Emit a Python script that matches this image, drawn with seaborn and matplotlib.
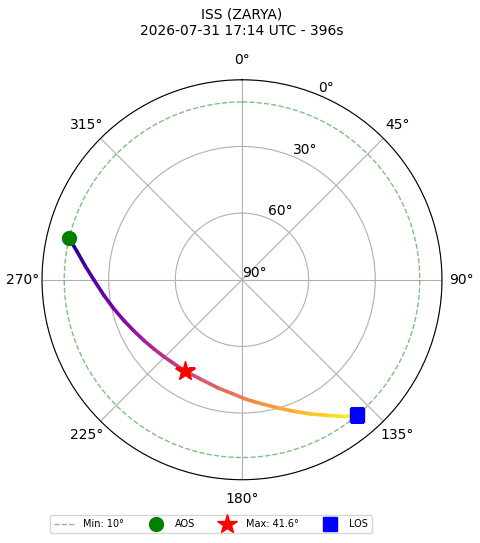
import numpy as np
import pandas as pd
import matplotlib
matplotlib.use("Agg")
import matplotlib.pyplot as plt
import seaborn as sns

# pass (azimuth deg, elevation deg, seconds since AOS)
azimuth = [283.5, 279.8, 275.0, 270.0, 263.5, 257.2, 250.9, 244.6, 238.2,
           231.8, 225.4, 219.0, 212.1, 201.9, 192.3, 183.5, 178.6, 174.7,
           171.0, 164.2, 158.1, 152.6, 147.5, 143.0, 139.6]
elevation = [10.0, 14.6, 19.2, 23.3, 27.5, 30.9, 33.8, 36.2, 38.1,
             39.6, 40.7, 41.4, 41.6, 41.5, 40.1, 38.2, 36.4, 35.0,
             33.5, 30.0, 26.1, 21.9, 17.6, 13.0, 10.0]
seconds = [0, 16, 35, 53, 73, 92, 108, 124, 140, 154, 168, 181, 196, 217,
           237, 257, 269, 279, 288, 307, 326, 344, 363, 381, 396]

min_el = 10
max_idx = 12
sat_name = "ISS (ZARYA)"
pass_start = "2026-07-31 17:14 UTC"
duration = 396

r_ticks = [0, 30, 60, 90]
r_labels = ["90°", "60°", "30°", "0°"]

theta = np.deg2rad(azimuth)
radius = 90 - np.array(elevation)

# one short line per step so the colour follows time
rows = []
for i in range(len(theta) - 1):
    rows.append({"seg": i, "theta": theta[i], "r": radius[i]})
    rows.append({"seg": i, "theta": theta[i + 1], "r": radius[i + 1]})
segs = pd.DataFrame(rows)
cmap = plt.get_cmap("plasma")
seg_colors = [cmap((seconds[i] + seconds[i + 1]) / 2 / duration) for i in range(len(theta) - 1)]

fig = plt.figure(figsize=(4.8, 5.43), dpi=100)
ax = fig.add_axes([0.0875, 0.1165, 0.8333, 0.7366], projection="polar")
ax.set_theta_zero_location("N")
ax.set_theta_direction(-1)

sns.lineplot(data=segs, x="theta", y="r", hue="seg", palette=seg_colors,
             sort=False, estimator=None, linewidth=2.6, legend=False, ax=ax,
             zorder=3, solid_capstyle="round")

circle = np.linspace(0, 2 * np.pi, 361)
ax.plot(circle, np.full_like(circle, 90 - min_el), "--", color="green",
        alpha=0.5, linewidth=1, label=f"Min: {min_el}°")
ax.plot(theta[0], radius[0], "o", color="green", markersize=10, label="AOS", zorder=5)
ax.plot(theta[max_idx], radius[max_idx], "*", color="red", markersize=15,
        label=f"Max: {elevation[max_idx]}°", zorder=5)
ax.plot(theta[-1], radius[-1], "s", color="blue", markersize=9.5, label="LOS", zorder=5)

ax.set_ylim(0, 90)
ax.set_yticks(r_ticks)
ax.set_yticklabels(r_labels)
ax.set_xlabel("")
ax.set_ylabel("")
ax.tick_params(labelsize=10)
ax.grid(True, color="#b0b0b0", linewidth=0.8)

fig.text(0.504, 1 - 8 / 543, f"{sat_name}\n{pass_start} - {duration}s",
         ha="center", va="top", fontsize=10)

fig.legend(loc="center", bbox_to_anchor=(211 / 480, 1 - 524 / 543), ncol=4,
           fontsize=7, columnspacing=2.2, handlelength=2.2)

fig.savefig("out.png", dpi=100)
